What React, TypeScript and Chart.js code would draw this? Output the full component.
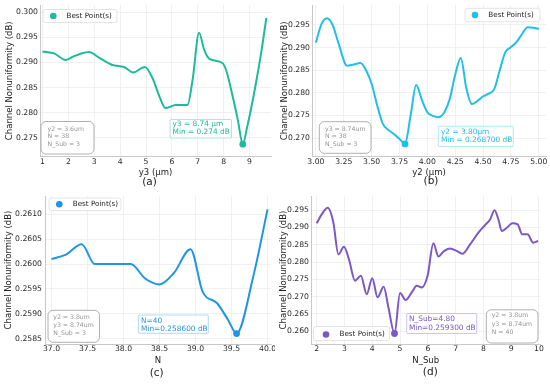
import React, { useEffect, useRef } from 'react';
import { Chart, registerables } from 'chart.js';
Chart.register(...registerables);

const FONT = '"DejaVu Sans", sans-serif';
const W = 275;
const H = 192;

// ---------- Panel (a): y3 sweep ----------
const A_X = [1.0, 1.45, 1.9, 2.2, 2.5, 2.8, 3.2, 3.7, 4.15, 4.5, 4.95, 5.25, 5.52, 5.75, 6.15, 6.6, 6.8, 7.05, 7.25, 7.45, 7.95, 8.1, 8.35, 8.55, 8.74, 8.9, 9.2, 9.45, 9.65];
const A_Y = [0.2922, 0.2918, 0.2905, 0.2912, 0.2918, 0.2921, 0.2909, 0.2895, 0.2891, 0.288, 0.2891, 0.2869, 0.2832, 0.2809, 0.2815, 0.2815, 0.2865, 0.2959, 0.2925, 0.2907, 0.2899, 0.2884, 0.2832, 0.2785, 0.2737, 0.2769, 0.2845, 0.2919, 0.2989];
const A_BEST_X = 8.74;
const A_BEST_Y = 0.2737;
const A_XTICKS = [1, 2, 3, 4, 5, 6, 7, 8, 9];
const A_YTICKS = [0.275, 0.28, 0.285, 0.29, 0.295, 0.3];
const A_INFO = ['y2 = 3.6um', 'N = 38', 'N_Sub = 3'];
const A_MIN = ['y3 = 8.74 μm', 'Min = 0.274 dB'];

// ---------- Panel (b): y2 sweep ----------
const B_X = [3.0, 3.05, 3.1, 3.15, 3.2, 3.28, 3.33, 3.4, 3.45, 3.5, 3.55, 3.6, 3.65, 3.7, 3.75, 3.8, 3.85, 3.9, 3.95, 4.0, 4.05, 4.1, 4.15, 4.2, 4.25, 4.3, 4.35, 4.4, 4.45, 4.5, 4.55, 4.6, 4.65, 4.7, 4.75, 4.8, 4.85, 4.9, 4.95, 5.0];
const B_Y = [0.2911, 0.2952, 0.2965, 0.295, 0.2912, 0.286, 0.2862, 0.2866, 0.285, 0.282, 0.2772, 0.2732, 0.2718, 0.2709, 0.2698, 0.2687, 0.275, 0.2817, 0.2785, 0.2757, 0.2749, 0.2746, 0.2756, 0.2785, 0.284, 0.2877, 0.281, 0.2775, 0.2782, 0.2792, 0.2798, 0.2808, 0.285, 0.289, 0.2901, 0.2912, 0.293, 0.2945, 0.2944, 0.2941];
const B_BEST_X = 3.8;
const B_BEST_Y = 0.2687;
const B_XTICKS = [3.0, 3.25, 3.5, 3.75, 4.0, 4.25, 4.5, 4.75, 5.0];
const B_YTICKS = [0.27, 0.275, 0.28, 0.285, 0.29, 0.295];
const B_INFO = ['y3 = 8.74um', 'N = 38', 'N_Sub = 3'];
const B_MIN = ['y2 = 3.80μm', 'Min = 0.268700 dB'];

// ---------- Panel (c): N sweep ----------
const C_X = [37.0, 37.2, 37.42, 37.6, 37.8, 38.1, 38.3, 38.5, 38.7, 38.93, 39.1, 39.3, 39.45, 39.57, 39.8, 40.0];
const C_Y = [0.2601, 0.26019, 0.2604, 0.26, 0.26, 0.26, 0.25971, 0.25959, 0.25982, 0.2603, 0.25944, 0.25921, 0.25888, 0.2586, 0.25974, 0.2611];
const C_BEST_X = 39.57;
const C_BEST_Y = 0.2586;
const C_XTICKS = [37.0, 37.5, 38.0, 38.5, 39.0, 39.5, 40.0];
const C_YTICKS = [0.2585, 0.259, 0.2595, 0.26, 0.2605, 0.261];
const C_INFO = ['y2 = 3.8um', 'y3 = 8.74um', 'N_Sub = 3'];
const C_MIN = ['N=40', 'Min=0.258600 dB'];

// ---------- Panel (d): N_Sub sweep ----------
const D_X = [2.0, 2.18, 2.4, 2.6, 2.78, 2.98, 3.16, 3.38, 3.59, 3.8, 4.0, 4.19, 4.41, 4.58, 4.8, 5.0, 5.2, 5.42, 5.6, 5.78, 5.99, 6.2, 6.38, 6.56, 6.8, 7.04, 7.24, 7.52, 7.82, 8.06, 8.24, 8.4, 8.54, 8.66, 8.84, 9.04, 9.23, 9.4, 9.59, 9.79, 9.97];
const D_Y = [0.2912, 0.2938, 0.2957, 0.2914, 0.2822, 0.2844, 0.2808, 0.2746, 0.276, 0.2707, 0.2753, 0.2698, 0.2728, 0.2669, 0.2593, 0.271, 0.269, 0.2712, 0.2731, 0.2726, 0.276, 0.2854, 0.2816, 0.283, 0.2839, 0.2832, 0.2824, 0.2851, 0.2885, 0.2907, 0.2923, 0.295, 0.2923, 0.289, 0.2899, 0.2912, 0.2909, 0.288, 0.288, 0.2856, 0.2861];
const D_BEST_X = 4.8;
const D_BEST_Y = 0.2593;
const D_XTICKS = [2, 3, 4, 5, 6, 7, 8, 9, 10];
const D_YTICKS = [0.26, 0.265, 0.27, 0.275, 0.28, 0.285, 0.29, 0.295];
const D_INFO = ['y2 = 3.8um', 'y3 = 8.74um', 'N = 40'];
const D_MIN = ['N_Sub=4.80', 'Min=0.259300 dB'];

const Y_TITLE = 'Channel Nonuniformity (dB)';
const LEGEND_LABEL = 'Best Point(s)';

type Box = { x: number; y: number; w: number; h: number };
type PanelCfg = {
  pos: { left: number; top: number };
  xs: number[]; ys: number[]; bestX: number; bestY: number;
  color: string; pale: string;
  xTicks: number[]; yTicks: number[]; xDec: number; yDec: number;
  xMin: number; xMax: number; yMin: number; yMax: number;
  area: { l: number; t: number; r: number; b: number };
  xTitle: string; xTitleY: number; yTitleX: number; xTickPad: number; yTickPad: number;
  caption: string; capX: number; capY: number;
  legend: { box: Box; mx: number; my: number; tx: number };
  info: { box: Box; tx: number; ty: number[]; lines: string[] };
  minBox: { box: Box; tx: number; ty: number[]; lines: string[] };
};

const PANELS: PanelCfg[] = [
  {
    pos: { left: 0, top: 0 },
    xs: A_X, ys: A_Y, bestX: A_BEST_X, bestY: A_BEST_Y,
    color: '#1dbb9b', pale: 'rgba(29,187,155,0.35)',
    xTicks: A_XTICKS, yTicks: A_YTICKS, xDec: 0, yDec: 3,
    xMin: 0.904, xMax: 9.83, yMin: 0.27124, yMax: 0.30146,
    area: { l: 40, t: 5, r: 273, b: 156.5 },
    xTitle: 'y3 (μm)', xTitleY: 172.3, yTitleX: 10, xTickPad: 0.5, yTickPad: 2,
    caption: '(a)', capX: 149.5, capY: 182.7,
    legend: { box: { x: 43, y: 9.5, w: 74, h: 13 }, mx: 53.3, my: 16, tx: 66.5 },
    info: { box: { x: 41, y: 121.5, w: 53, h: 32.5 }, tx: 47.5, ty: [129.3, 136.8, 144.3], lines: A_INFO },
    minBox: { box: { x: 170, y: 119.5, w: 61.5, h: 18.5 }, tx: 172.5, ty: [124.3, 132], lines: A_MIN },
  },
  {
    pos: { left: 275, top: 0 },
    xs: B_X, ys: B_Y, bestX: B_BEST_X, bestY: B_BEST_Y,
    color: '#1fbfe8', pale: 'rgba(31,191,232,0.35)',
    xTicks: B_XTICKS, yTicks: B_YTICKS, xDec: 2, yDec: 3,
    xMin: 2.965, xMax: 5.065, yMin: 0.26591, yMax: 0.29942,
    area: { l: 37, t: 5, r: 271.5, b: 156.5 },
    xTitle: 'y2 (μm)', xTitleY: 172.3, yTitleX: 10, xTickPad: 0.5, yTickPad: 2,
    caption: '(b)', capX: 156, capY: 181.7,
    legend: { box: { x: 190, y: 8.3, w: 75, h: 13.4 }, mx: 200, my: 15, tx: 213.3 },
    info: { box: { x: 44.3, y: 121.7, w: 51.7, h: 31.6 }, tx: 50, ty: [129, 136.7, 144.3], lines: B_INFO },
    minBox: { box: { x: 163.3, y: 126.3, w: 75, h: 20.2 }, tx: 166, ty: [132, 140.3], lines: B_MIN },
  },
  {
    pos: { left: 0, top: 192 },
    xs: C_X, ys: C_Y, bestX: C_BEST_X, bestY: C_BEST_Y,
    color: '#1f95e6', pale: 'rgba(31,149,230,0.35)',
    xTicks: C_XTICKS, yTicks: C_YTICKS, xDec: 1, yDec: 4,
    xMin: 36.91, xMax: 40.048, yMin: 0.25839, yMax: 0.26137,
    area: { l: 45, t: 3, r: 272, b: 152 },
    xTitle: 'N', xTitleY: 169, yTitleX: 8.5, xTickPad: 0.5, yTickPad: 3,
    caption: '(c)', capX: 156.7, capY: 181,
    legend: { box: { x: 49, y: 6, w: 72, h: 12.5 }, mx: 59.3, my: 12.3, tx: 72.7 },
    info: { box: { x: 48, y: 118.3, w: 51.5, h: 32 }, tx: 53.3, ty: [125, 133, 141.3], lines: C_INFO },
    minBox: { box: { x: 138.3, y: 123, w: 70, h: 18.3 }, tx: 141, ty: [128.7, 137.3], lines: C_MIN },
  },
  {
    pos: { left: 275, top: 192 },
    xs: D_X, ys: D_Y, bestX: D_BEST_X, bestY: D_BEST_Y,
    color: '#7b58c4', pale: 'rgba(123,88,196,0.35)',
    xTicks: D_XTICKS, yTicks: D_YTICKS, xDec: 0, yDec: 3,
    xMin: 1.795, xMax: 10.054, yMin: 0.25626, yMax: 0.29911,
    area: { l: 36, t: 3, r: 265.5, b: 152 },
    xTitle: 'N_Sub', xTitleY: 168.5, yTitleX: 8.5, xTickPad: 0.5, yTickPad: 2,
    caption: '(d)', capX: 155.3, capY: 180.5,
    legend: { box: { x: 38.5, y: 134.5, w: 76, h: 14 }, mx: 51, my: 142.5, tx: 64.5 },
    info: { box: { x: 211.3, y: 117.8, w: 51.7, h: 33.2 }, tx: 216.7, ty: [123.7, 132.3, 140.7], lines: D_INFO },
    minBox: { box: { x: 131.7, y: 121.5, w: 70, h: 20 }, tx: 134, ty: [126.7, 135.7], lines: D_MIN },
  },
];

function rr(ctx: CanvasRenderingContext2D, b: Box, r: number) {
  ctx.beginPath();
  if ((ctx as any).roundRect) (ctx as any).roundRect(b.x, b.y, b.w, b.h, r);
  else ctx.rect(b.x, b.y, b.w, b.h);
}

function makeOverlay(p: PanelCfg) {
  return {
    id: 'overlay',
    afterDraw(chart: any) {
      const ctx: CanvasRenderingContext2D = chart.ctx;
      ctx.save();
      ctx.textBaseline = 'middle';
      ctx.textAlign = 'left';

      // info box (grey, rounded)
      rr(ctx, p.info.box, 5);
      ctx.fillStyle = 'rgba(255,255,255,0.9)';
      ctx.fill();
      ctx.strokeStyle = '#b0b0b0';
      ctx.lineWidth = 1;
      ctx.stroke();
      ctx.fillStyle = '#959595';
      ctx.font = `6.2px ${FONT}`;
      p.info.lines.forEach((t, i) => ctx.fillText(t, p.info.tx, p.info.ty[i]));

      // min box (coloured)
      rr(ctx, p.minBox.box, 1);
      ctx.fillStyle = 'rgba(255,255,255,0.85)';
      ctx.fill();
      ctx.strokeStyle = p.pale;
      ctx.lineWidth = 1;
      ctx.stroke();
      ctx.fillStyle = p.color;
      ctx.font = `7.4px ${FONT}`;
      p.minBox.lines.forEach((t, i) => ctx.fillText(t, p.minBox.tx, p.minBox.ty[i]));

      // legend
      rr(ctx, p.legend.box, 2.5);
      ctx.fillStyle = 'rgba(255,255,255,0.85)';
      ctx.fill();
      ctx.strokeStyle = '#dddddd';
      ctx.lineWidth = 0.8;
      ctx.stroke();
      ctx.beginPath();
      ctx.arc(p.legend.mx, p.legend.my, 3.3, 0, Math.PI * 2);
      ctx.fillStyle = p.color;
      ctx.fill();
      ctx.fillStyle = '#222';
      ctx.font = `7.2px ${FONT}`;
      ctx.fillText(LEGEND_LABEL, p.legend.tx, p.legend.my);

      // caption
      ctx.textAlign = 'center';
      ctx.fillStyle = '#1a1a1a';
      ctx.font = `10.5px ${FONT}`;
      ctx.fillText(p.caption, p.capX, p.capY);
      ctx.restore();
    },
  };
}

function Panel({ p }: { p: PanelCfg }) {
  const ref = useRef<HTMLCanvasElement | null>(null);
  useEffect(() => {
    if (!ref.current) return;
    const tickFont = { family: FONT, size: 7.7 };
    const titleFont = { family: FONT, size: 8.5 };
    const chart = new Chart(ref.current, {
      type: 'line',
      data: {
        datasets: [
          {
            type: 'scatter',
            data: [{ x: p.bestX, y: p.bestY }],
            pointRadius: 3.4,
            pointBackgroundColor: p.color,
            pointBorderColor: p.color,
            pointBorderWidth: 0,
            showLine: false,
          } as any,
          {
            data: p.xs.map((x, i) => ({ x, y: p.ys[i] })),
            borderColor: p.color,
            borderWidth: 2,
            pointRadius: 0,
            cubicInterpolationMode: 'monotone',
            fill: false,
          },
        ],
      },
      options: {
        animation: false,
        responsive: false,
        devicePixelRatio: 1,
        events: [],
        layout: { padding: { left: 0, top: p.area.t, right: W - p.area.r, bottom: 0 } },
        plugins: { legend: { display: false }, tooltip: { enabled: false }, title: { display: false } },
        scales: {
          x: {
            type: 'linear',
            min: p.xMin,
            max: p.xMax,
            afterBuildTicks: (s: any) => { s.ticks = p.xTicks.map((v) => ({ value: v })); },
            afterFit: (s: any) => { s.height = H - p.area.b; s.paddingLeft = 0; s.paddingRight = 0; },
            ticks: {
              font: tickFont, color: '#2a2a2a', padding: p.xTickPad, autoSkip: false, maxRotation: 0,
              callback: (v: any) => Number(v).toFixed(p.xDec),
            },
            grid: { color: '#ececec', lineWidth: 0.8, drawTicks: false },
            border: { display: true, color: '#c8c8c8', width: 1 },
            title: {
              display: true, text: p.xTitle, font: titleFont, color: '#222',
              padding: { top: 0, bottom: H - 5.1 - p.xTitleY },
            },
          },
          y: {
            type: 'linear',
            min: p.yMin,
            max: p.yMax,
            afterBuildTicks: (s: any) => { s.ticks = p.yTicks.map((v) => ({ value: v })); },
            afterFit: (s: any) => { s.width = p.area.l; s.paddingTop = 0; s.paddingBottom = 0; },
            ticks: {
              font: tickFont, color: '#2a2a2a', padding: p.yTickPad, autoSkip: false,
              callback: (v: any) => Number(v).toFixed(p.yDec),
            },
            grid: { color: '#ececec', lineWidth: 0.8, drawTicks: false },
            border: { display: true, color: '#c8c8c8', width: 1 },
            title: {
              display: true, text: Y_TITLE, font: titleFont, color: '#222',
              padding: { top: p.yTitleX - 5.1, bottom: 0 },
            },
          },
        },
      } as any,
      plugins: [makeOverlay(p)],
    });
    return () => chart.destroy();
  }, [p]);
  return (
    <div style={{ position: 'absolute', left: p.pos.left, top: p.pos.top, width: W, height: H }}>
      <canvas ref={ref} width={W} height={H} style={{ display: 'block', width: W, height: H }} />
    </div>
  );
}

export default function App() {
  return (
    <div style={{ position: 'absolute', left: 0, top: 0, width: 550, height: 384, background: '#fff', overflow: 'hidden' }}>
      {PANELS.map((p, i) => <Panel key={i} p={p} />)}
    </div>
  );
}
